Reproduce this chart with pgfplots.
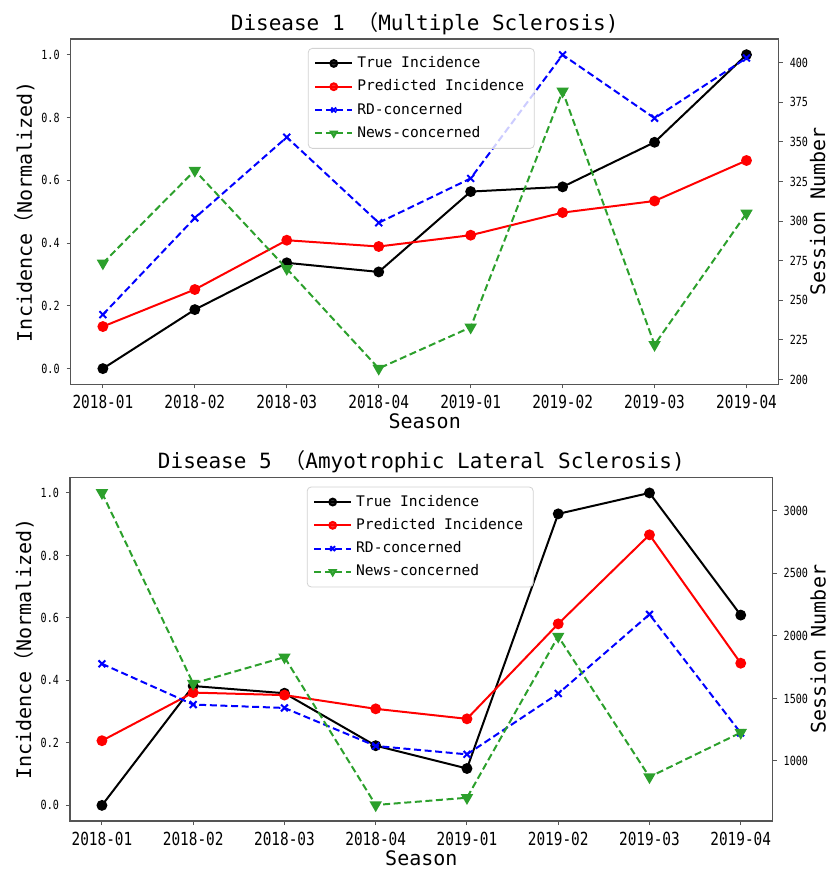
\documentclass[border=0pt]{standalone}
\usepackage{fontspec}
\setmainfont{DejaVu Sans Mono}
\newfontfamily\cjk{Noto Sans CJK SC}
\newfontfamily\tickfont{DejaVu Sans Mono}[FakeStretch=0.8]
\usepackage{pgfplots}
\pgfplotsset{compat=1.18}
\definecolor{mplgreen}{HTML}{2CA02C}
\definecolor{framegray}{HTML}{555555}

\pgfplotsset{
  base/.style={
    scale only axis,
    xmin=-0.35, xmax=7.35,
    xtick={0,1,2,3,4,5,6,7},
    axis line style={framegray, line width=0.6pt},
    tick style={framegray, line width=0.5pt},
    tick align=outside, major tick length=2pt,
    /pgf/number format/assume math mode=true,
    /pgf/number format/1000 sep={},
    label style={font=\fontsize{10}{12}\selectfont},
    yticklabel style={font=\tickfont\fontsize{6.3}{7}\selectfont},
  },
  leftax/.style={
    base,
    ymin=-0.05, ymax=1.05,
    ytick={0,0.2,0.4,0.6,0.8,1},
    yticklabel style={/pgf/number format/.cd, fixed, fixed zerofill, precision=1},
    xtick pos=left, ytick pos=left,
    xticklabels={2018-01,2018-02,2018-03,2018-04,2019-01,2019-02,2019-03,2019-04},
    xticklabel style={font=\tickfont\fontsize{9}{10}\selectfont},
    xlabel={Season},
    xlabel style={at={(axis description cs:0.5,0)}, anchor=center, yshift=-18.5pt},
    ylabel={Incidence{\cjk （}Normalized)},
    % the label is turned by 90 degrees, so a shift along its y moves it left
    ylabel style={at={(axis description cs:0,0.5)}, anchor=center, yshift=23pt},
    title style={font=\fontsize{10.5}{12}\selectfont,
      at={(axis description cs:0.5,1)}, anchor=center, yshift=1.8pt},
  },
  rightax/.style={
    base,
    axis x line=none,
    axis y line*=right,
    ylabel={Session Number},
    ylabel style={at={(axis description cs:1,0.5)}, anchor=center, yshift=-19.5pt},
    legend image code/.code={
      \draw[mark repeat=2, mark phase=2, ##1, mark size=1.7pt]
        plot coordinates {(0pt,0pt) (9.25pt,0pt) (18.5pt,0pt)};},
    legend style={anchor=north west, draw=gray!35, rounded corners=2pt,
      fill=white, fill opacity=0.8, text opacity=1,
      font=\fontsize{7.3}{8.5}\selectfont, cells={anchor=west}, row sep=0.6pt},
  },
  truestyle/.style={black, line width=1pt, mark=*, mark size=2.2pt},
  predstyle/.style={red, line width=1pt, mark=*, mark size=2.2pt},
  rdstyle/.style={blue, line width=1pt, dash pattern=on 3.5pt off 1.8pt,
    mark=x, mark size=2.4pt, mark options={solid}},
  newsstyle/.style={mplgreen, line width=1pt, dash pattern=on 3.5pt off 1.8pt,
    mark=triangle*, mark size=2.6pt, mark options={solid, rotate=180}},
}

\begin{document}
\begin{tikzpicture}
\path[use as bounding box] (0,0) rectangle (414.5pt,-434.5pt);

% ---- Disease 1 ----
\begin{axis}[leftax, at={(35.35pt,-192.15pt)}, anchor=south west,
  width=354pt, height=172.65pt,
  title={Disease 1 {\cjk （}Multiple Sclerosis)}]
\addplot[truestyle] coordinates {(0,0) (1,0.188) (2,0.337) (3,0.308) (4,0.564) (5,0.579) (6,0.721) (7,1.0)};
\addplot[predstyle] coordinates {(0,0.134) (1,0.252) (2,0.409) (3,0.389) (4,0.425) (5,0.497) (6,0.534) (7,0.663)};
\end{axis}
\begin{axis}[rightax, at={(35.35pt,-192.15pt)}, anchor=south west,
  width=354pt, height=172.65pt,
  ymin=197, ymax=415, ytick={200,225,250,275,300,325,350,375,400},
  legend style={at={(0.335,0.974)}}]
\addlegendimage{truestyle}\addlegendentry{True Incidence}
\addlegendimage{predstyle}\addlegendentry{Predicted Incidence}
\addplot[rdstyle] coordinates {(0,241) (1,302) (2,353) (3,299) (4,327) (5,405) (6,365) (7,403)};
\addlegendentry{RD-concerned}
\addplot[newsstyle] coordinates {(0,273.5) (1,332) (2,270) (3,207) (4,233) (5,382) (6,222) (7,305)};
\addlegendentry{News-concerned}
\end{axis}

% ---- Disease 5 ----
\begin{axis}[leftax, at={(35pt,-410.5pt)}, anchor=south west,
  width=351.35pt, height=171.85pt,
  title={Disease 5 {\cjk （}Amyotrophic Lateral Sclerosis)}]
\addplot[truestyle] coordinates {(0,0) (1,0.382) (2,0.359) (3,0.191) (4,0.118) (5,0.933) (6,1.0) (7,0.609)};
\addplot[predstyle] coordinates {(0,0.207) (1,0.361) (2,0.353) (3,0.309) (4,0.277) (5,0.581) (6,0.866) (7,0.455)};
\end{axis}
\begin{axis}[rightax, at={(35pt,-410.5pt)}, anchor=south west,
  width=351.35pt, height=171.85pt,
  ymin=520, ymax=3268, ytick={1000,1500,2000,2500,3000},
  ylabel style={yshift=-3.2pt},
  legend style={at={(0.337,0.973)}}]
\addlegendimage{truestyle}\addlegendentry{True Incidence}
\addlegendimage{predstyle}\addlegendentry{Predicted Incidence}
\addplot[rdstyle] coordinates {(0,1777) (1,1451) (2,1424) (3,1120) (4,1053) (5,1539) (6,2172) (7,1224)};
\addlegendentry{RD-concerned}
\addplot[newsstyle] coordinates {(0,3144) (1,1619) (2,1830) (3,648) (4,706) (5,1996) (6,872) (7,1227)};
\addlegendentry{News-concerned}
\end{axis}
\end{tikzpicture}
\end{document}
